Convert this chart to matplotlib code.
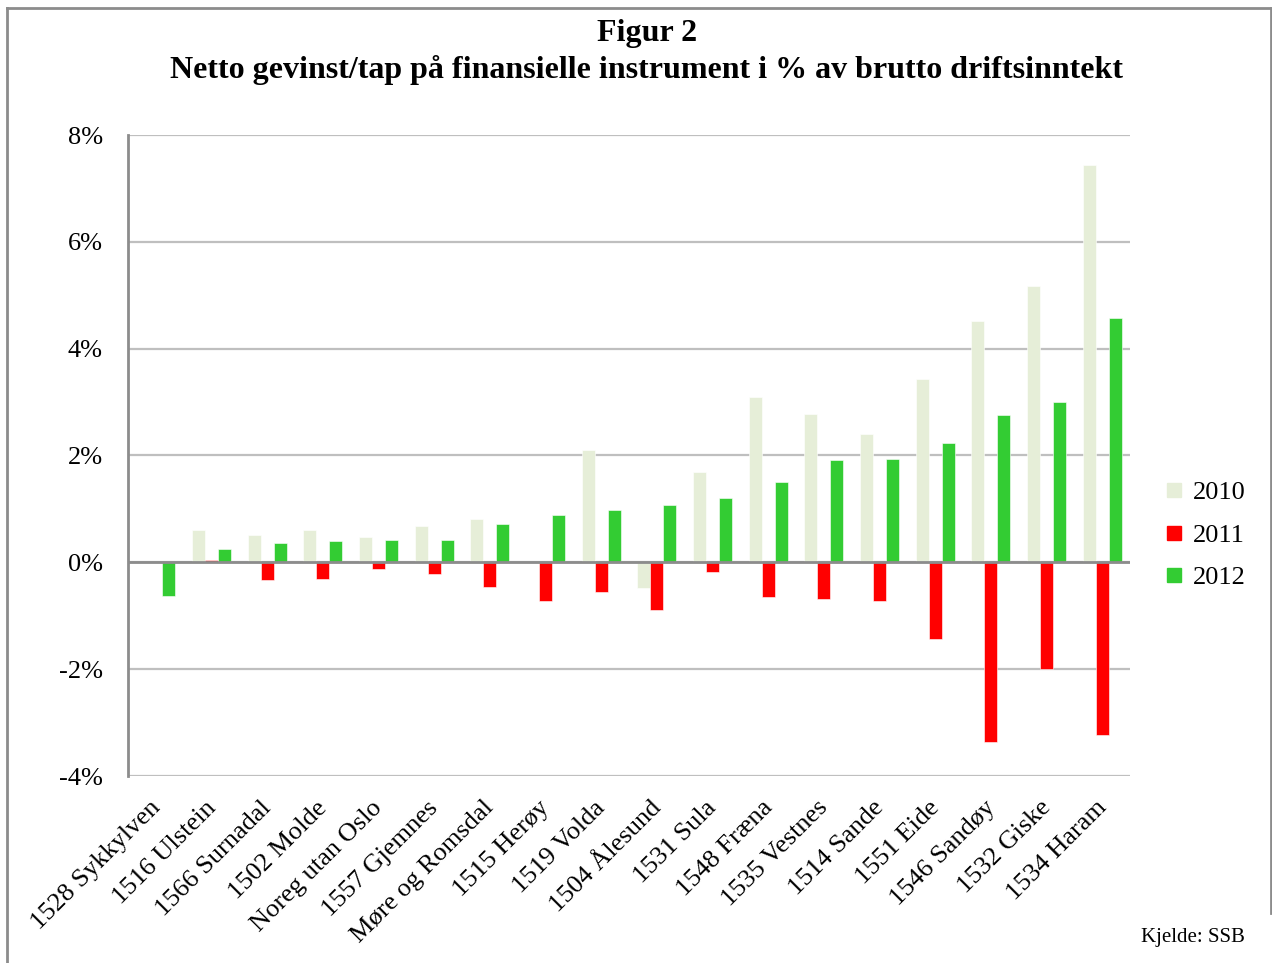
import matplotlib

matplotlib.use("Agg")
import matplotlib.pyplot as plt
import numpy as np
from matplotlib.lines import Line2D
from matplotlib.transforms import ScaledTranslation

plt.rcParams["font.family"] = ["Liberation Serif", "DejaVu Serif"]

CATEGORIES = [
    "1528 Sykkylven", "1516 Ulstein", "1566 Surnadal", "1502 Molde",
    "Noreg utan Oslo", "1557 Gjemnes", "Møre og Romsdal", "1515 Herøy",
    "1519 Volda", "1504 Ålesund", "1531 Sula", "1548 Fræna",
    "1535 Vestnes", "1514 Sande", "1551 Eide", "1546 Sandøy",
    "1532 Giske", "1534 Haram",
]
Y2010 = [0.0, 0.60, 0.51, 0.61, 0.47, 0.68, 0.82, 0.0, 2.10, -0.48,
         1.69, 3.09, 2.78, 2.40, 3.43, 4.51, 5.18, 7.44]
Y2011 = [0.0, 0.04, -0.34, -0.31, -0.13, -0.22, -0.46, -0.73, -0.56, -0.90,
         -0.18, -0.65, -0.69, -0.73, -1.44, -3.36, -2.00, -3.23]
Y2012 = [-0.63, 0.25, 0.37, 0.40, 0.42, 0.42, 0.72, 0.88, 0.98, 1.08,
         1.21, 1.51, 1.91, 1.93, 2.24, 2.75, 3.01, 4.58]
YEARS = ["2010", "2011", "2012"]
Y_TICKS = [-4, -2, 0, 2, 4, 6, 8]

C2010 = "#E6EED8"
C2011 = "#FF0000"
C2012 = "#33CC33"
GRID = "#BFBFBF"
AXIS = "#8C8C8C"

W, H = 1272, 963
fig = plt.figure(figsize=(W / 100, H / 100), dpi=100)
ax = fig.add_axes([128 / W, 1 - 776 / H, (1130 - 128) / W, (776 - 135) / H])

x = np.arange(len(CATEGORIES))
bw = 0.235
series = [(Y2010, C2010), (Y2011, C2011), (Y2012, C2012)]
for i, (vals, col) in enumerate(series):
    ax.bar(x + (i - 1) * bw, vals, width=bw, color=col, edgecolor="white",
           linewidth=0.4, zorder=3, label=YEARS[i])

ax.set_xlim(-0.5, len(CATEGORIES) - 0.5)
ax.set_ylim(-4, 8)
ax.set_yticks(Y_TICKS)
ax.set_yticklabels([f"{t}%" for t in Y_TICKS], fontsize=19)
ax.yaxis.grid(True, color=GRID, linewidth=1.6, zorder=0)
ax.axhline(0, color=AXIS, linewidth=2, zorder=4)
ax.set_axisbelow(True)

for name in ["top", "right", "bottom"]:
    ax.spines[name].set_visible(False)
ax.spines["left"].set_color(AXIS)
ax.spines["left"].set_linewidth(2)

ax.set_xticks(x)
ax.set_xticklabels(CATEGORIES, rotation=45, ha="right", rotation_mode="anchor",
                   fontsize=19)
ax.tick_params(axis="x", length=0, pad=12)
ax.tick_params(axis="y", length=0, pad=18)
# nudge the slanted labels a little down-left, like the original
shift = ScaledTranslation(-0.07, -0.04, fig.dpi_scale_trans)
for lbl in ax.get_xticklabels():
    lbl.set_transform(lbl.get_transform() + shift)

fig.text(647 / W, 1 - 33 / H, "Figur 2", ha="center", va="center",
         fontsize=23, fontweight="bold")
fig.text(647 / W, 1 - 70 / H,
         "Netto gevinst/tap på finansielle instrument i % av brutto driftsinntekt",
         ha="center", va="center", fontsize=23, fontweight="bold")

handles = [Line2D([], [], marker="s", linestyle="none", markersize=10,
                  markerfacecolor=c, markeredgecolor=c) for _, c in series]
fig.legend(handles, YEARS, loc="center left", bbox_to_anchor=(1153 / W, 1 - 535 / H),
           frameon=False, fontsize=19, handlelength=0.8, handletextpad=0.3,
           labelspacing=0.72, borderaxespad=0)

# outer frame around the chart
frame = dict(color="#8C8C8C", linewidth=2, transform=fig.transFigure, clip_on=False)
fig.add_artist(Line2D([7 / W, 1271 / W], [1 - 8 / H, 1 - 8 / H], **frame))
fig.add_artist(Line2D([7 / W, 7 / W], [1 - 8 / H, 0], **frame))
fig.add_artist(Line2D([1271 / W, 1271 / W], [1 - 8 / H, 1 - 913 / H], **frame))

fig.text(1245 / W, 1 - 937 / H, "Kjelde: SSB", ha="right", va="center", fontsize=15)

fig.savefig("out.png", dpi=100)
